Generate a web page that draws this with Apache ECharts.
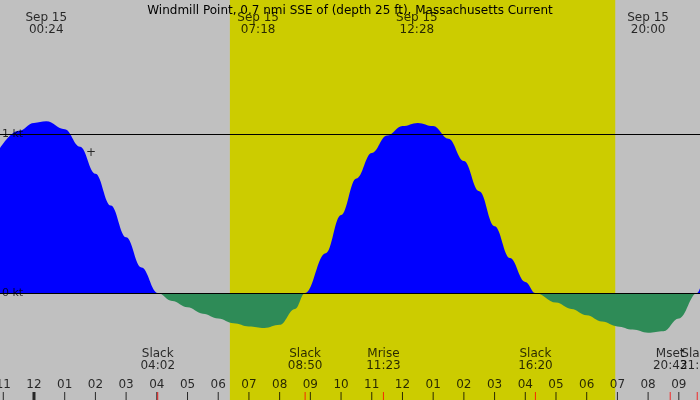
<!DOCTYPE html><html><head><meta charset="utf-8">
<script src="https://cdn.jsdelivr.net/npm/echarts@6/dist/echarts.min.js"></script>
<style>html,body{margin:0;padding:0;background:#c0c0c0}#c{width:700px;height:400px}</style></head><body><div id="c"></div>
<script>
const title = "Windmill Point, 0.7 nmi SSE of (depth 25 ft), Massachusetts Current";
const hours = [-1.107,-0.5,0,0.4,1,1.5,2,2.5,3,3.5,4.03,4.5,5,5.5,6,6.5,7,7.5,8,8.5,8.83,9.5,10,10.5,11,11.5,12,12.5,13,13.5,14,14.5,15,15.5,16,16.33,17,17.5,18,18.5,19,19.5,20,20.5,21,21.6,21.69];
const speed = [0.91,1.02,1.07,1.08,1.03,0.92,0.75,0.55,0.35,0.16,0,-0.05,-0.09,-0.13,-0.16,-0.19,-0.21,-0.22,-0.2,-0.1,0,0.25,0.49,0.72,0.88,0.99,1.05,1.07,1.05,0.97,0.83,0.64,0.42,0.22,0.07,0,-0.06,-0.1,-0.14,-0.18,-0.21,-0.23,-0.25,-0.24,-0.16,0,0.03];
const tickHours = [-1,0,1,2,3,4,5,6,7,8,9,10,11,12,13,14,15,16,17,18,19,20,21];
const tickLabels = ["11","12","01","02","03","04","05","06","07","08","09","10","11","12","01","02","03","04","05","06","07","08","09"];
const eventHours = [4.03,8.83,11.38,16.33,20.72,21.6];
const eventLabels = ["Slack\n04:02","Slack\n08:50","Mrise\n11:23","Slack\n16:20","Mset\n20:43","Slack\n21:36"];
const topHours = [0.4,7.3,12.47,20.0];
const topLabels = ["Sep 15\n00:24","Sep 15\n07:18","Sep 15\n12:28","Sep 15\n20:00"];
const daylight = [6.38,18.93];
const yMin=-0.673, yMax=1.843, xMin=-1.107, xMax=21.69;
const font='DejaVu Sans';
const flood = hours.map((h,i)=>[h,Math.max(speed[i],0)]);
const ebb = hours.map((h,i)=>[h,Math.min(speed[i],0)]);
const chart = echarts.init(document.getElementById('c'));
chart.setOption({
 animation:false, backgroundColor:'#c0c0c0',
 title:{text:title,left:'center',top:0,textStyle:{fontFamily:font,fontSize:12,fontWeight:'normal',color:'#000'}},
 grid:{left:0,right:0,top:0,bottom:0},
 xAxis:{type:'value',min:xMin,max:xMax,show:false},
 yAxis:{type:'value',min:yMin,max:yMax,show:false},
 series:[
  {type:'line',data:flood,smooth:0.4,smoothMonotone:'x',symbol:'none',lineStyle:{width:0},areaStyle:{color:'#0000ff',opacity:1},z:2,
   markArea:{silent:true,itemStyle:{color:'#cccc00'},data:[[{xAxis:daylight[0]},{xAxis:daylight[1]}]],z:0}},
  {type:'line',data:ebb,smooth:0.4,smoothMonotone:'x',symbol:'none',lineStyle:{width:0},areaStyle:{color:'#2e8b57',opacity:1},z:2,
   markLine:{silent:true,symbol:'none',label:{show:false},lineStyle:{color:'#000',width:1,type:'solid'},data:[{yAxis:1},{yAxis:0}]}},
  {type:'scatter',z:5,symbol:'rect',symbolSize:[1,16],itemStyle:{color:'#000'},
   data:tickHours.map((h,i)=>({value:[h,yMin],symbolSize:h===0?[3,16]:[1,16]})),
   label:{show:true,position:'top',distance:1,color:'#000',fontFamily:font,fontSize:12,formatter:p=>tickLabels[p.dataIndex]}},
  {type:'scatter',z:6,symbol:'rect',symbolSize:[1,16],itemStyle:{color:'#ff0000'},
   data:eventHours.map(h=>[h,yMin]),
   label:{show:true,position:'top',distance:20,lineHeight:12,color:'#000',fontFamily:font,fontSize:12,formatter:p=>eventLabels[p.dataIndex]}},
  {type:'scatter',z:6,symbolSize:0,data:topHours.map(h=>[h,yMax]),
   label:{show:true,position:'bottom',distance:12,lineHeight:12,color:'#000',fontFamily:font,fontSize:12,formatter:p=>topLabels[p.dataIndex]}},
  {type:'scatter',z:6,symbolSize:0,data:[[xMin,1],[xMin,0]],
   label:{show:true,position:'right',distance:2,color:'#000',fontFamily:font,fontSize:11,formatter:p=>['1 kt','0 kt'][p.dataIndex]}},
  {type:'scatter',z:6,symbolSize:0,data:[[1.86,0.88]],
   label:{show:true,position:'inside',color:'#000',fontFamily:font,fontSize:12,formatter:'+'}}
 ]
});
</script></body></html>
